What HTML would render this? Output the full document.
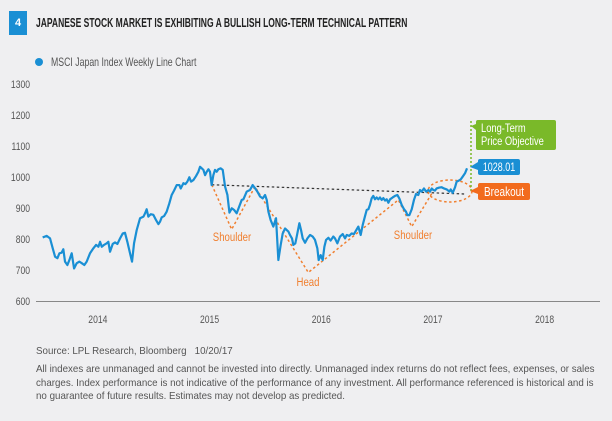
<!DOCTYPE html>
<html><head><meta charset="utf-8">
<style>
body{margin:0;background:#efeff1;}
#wrap{position:relative;width:612px;height:421px;background:#efeff1;font-family:"Liberation Sans",sans-serif;overflow:hidden;}
.t{position:absolute;white-space:nowrap;}
</style></head><body>
<div id="wrap">
<div class="t" style="left:9px;top:11px;width:18px;height:24px;background:#1a8fd4;color:#fff;font-weight:bold;font-size:11px;line-height:24px;text-align:center;">4</div>
<div class="t" style="left:36px;top:15px;font-size:13px;font-weight:bold;color:#222;transform:scaleX(0.655);transform-origin:0 0;">JAPANESE STOCK MARKET IS EXHIBITING A BULLISH LONG-TERM TECHNICAL PATTERN</div>
<svg id="chart" width="612" height="421" style="position:absolute;left:0;top:0"></svg>
<div class="t" style="left:36px;top:345px;font-size:10.5px;color:#555;transform:scaleX(0.93);transform-origin:0 0;">Source: LPL Research, Bloomberg &nbsp;&nbsp;10/20/17</div>
<div class="t" style="left:36px;top:363px;width:600px;white-space:normal;font-size:10.4px;line-height:13.5px;color:#555;transform:scaleX(0.94);transform-origin:0 0;">All indexes are unmanaged and cannot be invested into directly. Unmanaged index returns do not reflect fees, expenses, or sales charges. Index performance is not indicative of the performance of any investment. All performance referenced is historical and is no guarantee of future results. Estimates may not develop as predicted.</div>
</div>
<script>
const dates=[2014.006,2014.042,2014.072,2014.096,2014.117,2014.138,2014.156,2014.176,2014.191,2014.206,2014.227,2014.245,2014.266,2014.287,2014.311,2014.335,2014.356,2014.379,2014.400,2014.430,2014.460,2014.484,2014.505,2014.520,2014.535,2014.555,2014.579,2014.594,2014.609,2014.633,2014.654,2014.675,2014.699,2014.723,2014.743,2014.764,2014.788,2014.806,2014.824,2014.848,2014.878,2014.908,2014.923,2014.937,2014.952,2014.973,2014.997,2015.021,2015.042,2015.057,2015.072,2015.093,2015.116,2015.140,2015.161,2015.182,2015.206,2015.230,2015.242,2015.266,2015.284,2015.301,2015.319,2015.334,2015.355,2015.379,2015.400,2015.415,2015.430,2015.445,2015.460,2015.475,2015.490,2015.504,2015.519,2015.534,2015.549,2015.564,2015.579,2015.600,2015.618,2015.639,2015.660,2015.678,2015.699,2015.719,2015.743,2015.767,2015.788,2015.803,2015.833,2015.862,2015.886,2015.907,2015.928,2015.952,2015.976,2015.997,2016.012,2016.027,2016.047,2016.071,2016.095,2016.116,2016.137,2016.155,2016.176,2016.191,2016.206,2016.220,2016.238,2016.250,2016.268,2016.286,2016.304,2016.319,2016.334,2016.355,2016.376,2016.400,2016.423,2016.444,2016.465,2016.477,2016.495,2016.513,2016.528,2016.543,2016.564,2016.584,2016.608,2016.623,2016.644,2016.668,2016.692,2016.713,2016.728,2016.751,2016.772,2016.793,2016.817,2016.832,2016.853,2016.871,2016.892,2016.907,2016.922,2016.936,2016.951,2016.966,2016.981,2016.996,2017.011,2017.026,2017.041,2017.056,2017.071,2017.086,2017.101,2017.116,2017.139,2017.160,2017.181,2017.199,2017.220,2017.241,2017.259,2017.271,2017.289,2017.310,2017.330,2017.348,2017.369,2017.384,2017.399,2017.420,2017.438,2017.459,2017.474,2017.489,2017.504,2017.518,2017.533,2017.557,2017.578,2017.599,2017.623,2017.647,2017.659,2017.677,2017.698,2017.712,2017.730,2017.748,2017.766,2017.787,2017.805];
const values=[805,810,802,770,743,738,754,756,767,727,716,732,754,705,722,727,722,716,727,754,770,781,775,791,775,781,786,791,759,784,789,784,802,818,820,791,754,727,786,829,867,872,883,896,872,880,878,861,848,856,870,874,888,915,942,956,974,974,963,980,977,985,999,985,990,1003,1017,1033,1028,1023,1006,1017,1025,1017,974,1006,1023,1017,1025,1028,1023,969,942,885,899,894,883,906,926,928,953,958,974,964,953,937,931,942,926,888,861,840,867,732,781,818,834,829,824,813,802,781,786,818,851,829,802,788,802,813,808,797,770,732,748,732,775,797,804,795,808,802,786,808,816,802,813,810,818,816,831,840,813,845,874,894,896,910,931,939,928,934,928,934,926,932,924,928,917,928,934,939,942,931,910,896,888,877,877,896,926,945,942,958,953,963,953,958,953,963,958,956,963,966,967,963,960,953,960,949,967,985,988,992,1001,1012,1028.01];
const yTicks=[600,700,800,900,1000,1100,1200,1300];
const xLabels=["2014","2015","2016","2017","2018"];
const neckline=[[2015.52,975],[2017.80,945]];
const pattern=[[2015.52,975],[2015.698,831],[2015.907,969],[2016.384,692],[2017.19,926],[2017.31,840],[2017.50,953]];

const svg=document.getElementById('chart');const NS='http://www.w3.org/2000/svg';
const X=t=>42+(t-2014)*111.7;
const Y=v=>301-(v-600)*0.31;
function mk(tag,at,txt){const e=document.createElementNS(NS,tag);for(const k in at)e.setAttribute(k,at[k]);if(txt!==undefined)e.textContent=txt;svg.appendChild(e);return e;}
const F='"Liberation Sans",sans-serif';
function tx(x,y,s,size,fill,anchor,sx){return mk('text',{x:0,y:0,transform:'translate('+x+','+y+') scale('+sx+',1)','text-anchor':anchor,'font-size':size,fill:fill,'font-family':F},s);}

let e=mk('circle',{cx:39,cy:62,r:4,fill:'#1a8fd4'});


e=tx(51,66,'MSCI Japan Index Weekly Line Chart',11.5,'#555','start',0.76);



yTicks.forEach(v=>{const t=tx(30,Y(v)+4,String(v),11,'#555','end',0.78);

});
xLabels.forEach(l=>{const t=tx(X(+l+0.5),323,l,11,'#555','middle',0.78);

});
e=mk('line',{x1:36,y1:301.5,x2:600,y2:301.5,stroke:'#888','stroke-width':1});



e=mk('polyline',{points:neckline.map(p=>X(p[0])+','+Y(p[1])).join(' '),fill:'none',stroke:'#333','stroke-width':1.2,'stroke-dasharray':'2.5,2.5'});


e=mk('polyline',{points:pattern.map(p=>X(p[0])+','+Y(p[1])).join(' '),fill:'none',stroke:'#f07f2f','stroke-width':1.5,'stroke-dasharray':'2.5,2.5'});


e=mk('ellipse',{cx:450,cy:191,rx:22,ry:11,fill:'none',stroke:'#f07f2f','stroke-width':1.5,'stroke-dasharray':'2.5,2.5'});


e=mk('line',{x1:471,y1:121,x2:471,y2:192,stroke:'#7ab929','stroke-width':1.5,'stroke-dasharray':'2,2'});



e=mk('polyline',{points:dates.map((d,i)=>X(d)+','+Y(values[i])).join(' '),fill:'none',stroke:'#1a8fd4','stroke-width':2.2,'stroke-linejoin':'round'});



[['Shoulder',232,241],['Head',308,286],['Shoulder',413,239]].forEach(a=>{const t=tx(a[1],a[2],a[0],12,'#f07f2f','middle',0.8);

});

e=mk('rect',{x:476,y:120,width:80,height:30,rx:2,fill:'#7ab929'});


mk('polygon',{points:'476,124 471,126 476,130',fill:'#7ab929'});
tx(481,132,'Long-Term',12,'#fff','start',0.78);
tx(481,145,'Price Objective',12,'#fff','start',0.78);

e=mk('rect',{x:478,y:159,width:42,height:16,rx:2,fill:'#1a8fd4'});


mk('polygon',{points:'478,162 470,167 478,170',fill:'#1a8fd4'});
tx(499,171,'1028.01',11.5,'#fff','middle',0.78);

e=mk('rect',{x:478,y:183,width:52,height:17,rx:2,fill:'#f26b1d'});


mk('polygon',{points:'478,187 470,191 478,194',fill:'#f26b1d'});
tx(504,196,'Breakout',12.5,'#fff','middle',0.8);
</script>
</body></html>
